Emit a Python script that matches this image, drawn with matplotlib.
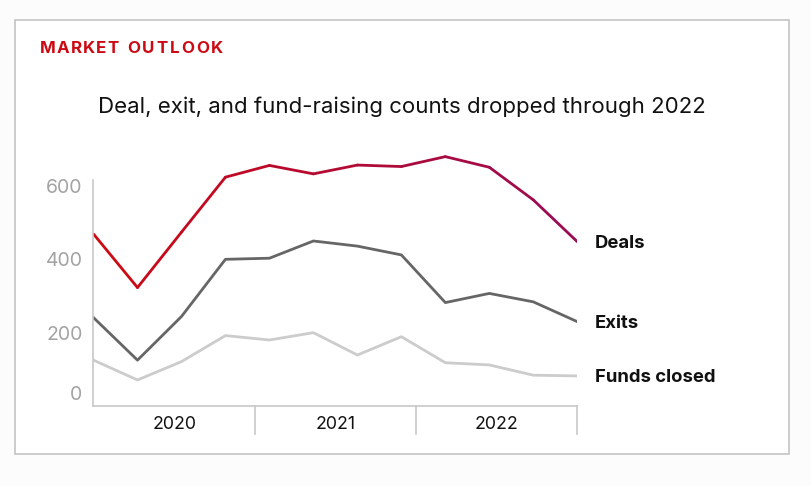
import numpy as np
import matplotlib
matplotlib.use("Agg")
import matplotlib.pyplot as plt
from matplotlib.collections import LineCollection
from matplotlib.patches import Rectangle
import matplotlib.transforms as mtransforms
from matplotlib.colors import to_rgb

# ---- data ----
quarters = ["2020 Q1", "2020 Q2", "2020 Q3", "2020 Q4",
            "2021 Q1", "2021 Q2", "2021 Q3", "2021 Q4",
            "2022 Q1", "2022 Q2", "2022 Q3", "2022 Q4"]
years = ["2020", "2021", "2022"]
deals = [469, 323, 474, 624, 656, 633, 657, 653, 680, 651, 562, 448]
exits = [241, 125, 244, 400, 403, 450, 436, 412, 282, 307, 284, 230]
funds = [125, 71, 121, 192, 180, 200, 139, 189, 118, 112, 84, 82]
series_labels = ["Deals", "Exits", "Funds closed"]
y_ticks = [0, 200, 400, 600]

W, H = 812, 486
fig = plt.figure(figsize=(W / 100, H / 100), dpi=100)
fig.patch.set_facecolor("#fcfcfc")

def px(x, y):
    return x / W, 1 - y / H

# card
card = Rectangle(px(15.5, 454.3), (789.3 - 15.5) / W, (454.3 - 19.7) / H,
                 transform=fig.transFigure, facecolor="white",
                 edgecolor="#c4c4c4", linewidth=1.2, zorder=-10)
fig.add_artist(card)

# axes: x 93.5..577.3 ; value 0 at y=406, 700 at y=149.3
x0, x1 = 93.5, 577.3
y0, ytop = 406.0, 149.3
ax = fig.add_axes([x0 / W, 1 - y0 / H, (x1 - x0) / W, (y0 - ytop) / H])
ax.set_facecolor("none")
ax.set_zorder(5)
n = len(quarters)
xs = np.arange(n)
ax.set_xlim(0, n - 1)
ax.set_ylim(0, 700)

# deals gradient line
pts = np.column_stack([xs, deals])
segs = np.stack([pts[:-1], pts[1:]], axis=1)
c0 = np.array(to_rgb("#cc0a14"))
c1 = np.array(to_rgb("#9c0b52"))
tvals = np.linspace(0, 1, len(segs))
cols = [tuple(c0 * (1 - t) + c1 * t) for t in tvals]
lc = LineCollection(segs, colors=cols, linewidths=2.0, capstyle="round", joinstyle="round")
ax.add_collection(lc)
ax.plot(xs, exits, color="#666666", lw=2.0, solid_joinstyle="round")
ax.plot(xs, funds, color="#cccccc", lw=2.0, solid_joinstyle="round")

# spines
for s in ["top", "right"]:
    ax.spines[s].set_visible(False)
ax.spines["left"].set_color("#c8c8c8")
ax.spines["bottom"].set_color("#c8c8c8")
ax.spines["left"].set_linewidth(1.2)
ax.spines["bottom"].set_linewidth(1.2)
ax.spines["left"].set_bounds(0, 615)

ax.set_yticks(y_ticks)
ax.set_yticklabels([str(v) for v in y_ticks])
ax.tick_params(axis="y", length=0, pad=8, labelsize=14, labelcolor="#a3a3a3")
for lab in ax.get_yticklabels():
    lab.set_fontfamily("Inter")
    if lab.get_text() == "0":
        lab.set_transform(lab.get_transform() +
                          mtransforms.ScaledTranslation(0, 13 / 100, fig.dpi_scale_trans))

# year bands
ax.set_xticks([])
bounds = np.linspace(0, n - 1, len(years) + 1)
for b in bounds[1:]:
    ax.plot([b, b], [0, -28 / 0.3667], color="#c8c8c8", lw=1.2, clip_on=False)
for i, yr in enumerate(years):
    ax.text((bounds[i] + bounds[i + 1]) / 2, -18.5 / 0.3667, yr, ha="center", va="center",
            fontsize=12.8, family="Inter", color="#111111")

# series labels
for lab, vals in zip(series_labels, [deals, exits, funds]):
    ax.annotate(lab, (n - 1, vals[-1]), xytext=(17.5 * 0.72, -1.6 * 0.72), textcoords="offset points",
                ha="left", va="center", fontsize=13.3, fontweight="bold",
                family="Inter", color="#111111", annotation_clip=False)

# header with letter spacing, each word fitted to the reference extents
renderer = fig.canvas.get_renderer()
words = [("MARKET", 40, 119), ("OUTLOOK", 127, 223)]
for word, left, right in words:
    items = []
    for ch in word:
        t = fig.text(*px(0, 48.5), ch, fontsize=12.2, fontweight="bold", family="Inter",
                     color="#cc0a14", va="center", ha="left")
        items.append((t, t.get_window_extent(renderer).width))
    track = (right - left - sum(w for _, w in items)) / (len(items) - 1)
    cx = left
    for t, w in items:
        t.set_x(cx / W)
        cx += w + track

fig.text(*px(98, 107), "Deal, exit, and fund-raising counts dropped through 2022",
         fontsize=16.0, family="Inter", color="#111111", va="center", ha="left")

fig.savefig("out.png", dpi=100, facecolor=fig.get_facecolor())
